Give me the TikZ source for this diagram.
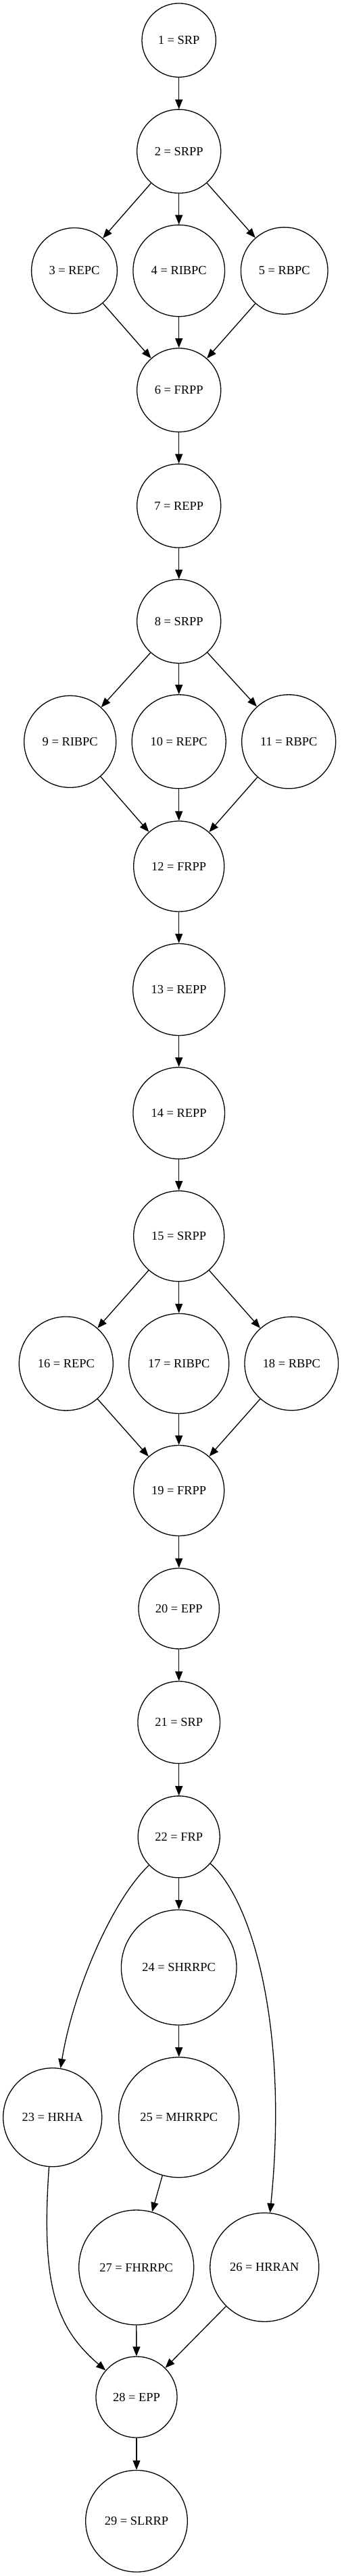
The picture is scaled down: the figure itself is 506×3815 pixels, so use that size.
\documentclass[tikz,border=0pt]{standalone}
\usepackage{fontspec}
\setmainfont{Liberation Serif}
\usepackage{xcolor}
\definecolor{ink}{HTML}{000000}
\usepackage{tikz}
\usetikzlibrary{arrows.meta}

\tikzset{
  proc/.style={circle, draw=ink, line width=1.3bp, inner sep=0pt, minimum size=#1,
    font=\fontsize{18.4bp}{22bp}\selectfont, text=ink},
  flow/.style={draw=ink, line width=1.3bp, -{Triangle[length=14bp, width=11bp]}}
}

\begin{document}
\begin{tikzpicture}[x=1bp, y=-1bp]
        \useasboundingbox (0,0) rectangle (506,3815);
        % First block
        \node[proc=109.4bp] (n1) at (264.7,59.6) {1 = SRP};
        \node[proc=124bp] (n2) at (264.7,224.1) {2 = SRPP};
        \node[proc=126.8bp] (n3) at (110,400.9) {3 = REPC};
        \node[proc=135.6bp] (n4) at (264.7,400.9) {4 = RIBPC};
        \node[proc=128.6bp] (n5) at (420.7,400.9) {5 = RBPC};
        \node[proc=124bp] (n6) at (264.7,577.7) {6 = FRPP};
        \node[proc=124bp] (n7) at (264.7,749.1) {7 = REPP};
        % Second block
        \node[proc=124bp] (n8) at (264.7,920.2) {8 = SRPP};
        \node[proc=136bp] (n9) at (103.7,1098.3) {9 = RIBPC};
        \node[proc=139bp] (n10) at (264.7,1098.3) {10 = REPC};
        \node[proc=139bp] (n11) at (427.2,1098.3) {11 = RBPC};
        \node[proc=134bp] (n12) at (264.7,1283) {12 = FRPP};
        \node[proc=136bp] (n13) at (264.7,1465.5) {13 = REPP};
        \node[proc=135.6bp] (n14) at (264.7,1648.5) {14 = REPP};
        % Third block
        \node[proc=134bp] (n15) at (264.7,1830.7) {15 = SRPP};
        \node[proc=139bp] (n16) at (97.8,2019.4) {16 = REPC};
        \node[proc=148bp] (n17) at (264.7,2019.4) {17 = RIBPC};
        \node[proc=138.6bp] (n18) at (431.3,2019.4) {18 = RBPC};
        \node[proc=134bp] (n19) at (264.7,2207.5) {19 = FRPP};
        \node[proc=119.4bp] (n20) at (264.7,2382.2) {20 = EPP};
        % Last block
        \node[proc=121.6bp] (n21) at (264.7,2550.8) {21 = SRP};
        \node[proc=121bp] (n22) at (264.7,2720.3) {22 = FRP};
        \node[proc=146bp] (n23) at (77.7,3135.7) {23 = HRHA};
        \node[proc=170.6bp] (n24) at (264.7,2913.7) {24 = SHRRPC};
        \node[proc=178bp] (n25) at (264.7,3135.7) {25 = MHRRPC};
        \node[proc=161bp] (n26) at (391.3,3357.7) {26 = HRRAN};
        \node[proc=170bp] (n27) at (201.7,3358) {27 = FHRRPC};
        \node[proc=120bp] (n28) at (202,3550) {28 = EPP};
        \node[proc=150.6bp] (n29) at (202,3733.7) {29 = SLRRP};
        % Edges
        \draw[flow] (n1) -- (n2);
        \draw[flow] (n2) -- (n3);
        \draw[flow] (n2) -- (n4);
        \draw[flow] (n2) -- (n5);
        \draw[flow] (n3) -- (n6);
        \draw[flow] (n4) -- (n6);
        \draw[flow] (n5) -- (n6);
        \draw[flow] (n6) -- (n7);
        \draw[flow] (n7) -- (n8);
        \draw[flow] (n8) -- (n9);
        \draw[flow] (n8) -- (n10);
        \draw[flow] (n8) -- (n11);
        \draw[flow] (n9) -- (n12);
        \draw[flow] (n10) -- (n12);
        \draw[flow] (n11) -- (n12);
        \draw[flow] (n12) -- (n13);
        \draw[flow] (n13) -- (n14);
        \draw[flow] (n14) -- (n15);
        \draw[flow] (n15) -- (n16);
        \draw[flow] (n15) -- (n17);
        \draw[flow] (n15) -- (n18);
        \draw[flow] (n16) -- (n19);
        \draw[flow] (n17) -- (n19);
        \draw[flow] (n18) -- (n19);
        \draw[flow] (n19) -- (n20);
        \draw[flow] (n20) -- (n21);
        \draw[flow] (n21) -- (n22);
        \draw[flow] (n22) -- (n24);
        \draw[flow] (n24) -- (n25);
        \draw[flow] (n25) -- (n27);
        \draw[flow] (n27) -- (n28);
        \draw[flow] (n26) -- (n28);
        \draw[flow] (n28) -- (n29);
        % Bent edges
        \draw[flow] (n22) .. controls (165,2815) and (108,2950) .. (n23);
        \draw[flow] (n22) .. controls (370,2810) and (428,2995) .. (n26);
        \draw[flow] (n23) .. controls (64,3330) and (73,3392) .. (93,3434)
          .. controls (108,3468) and (135,3492) .. (n28);
\end{tikzpicture}
\end{document}
